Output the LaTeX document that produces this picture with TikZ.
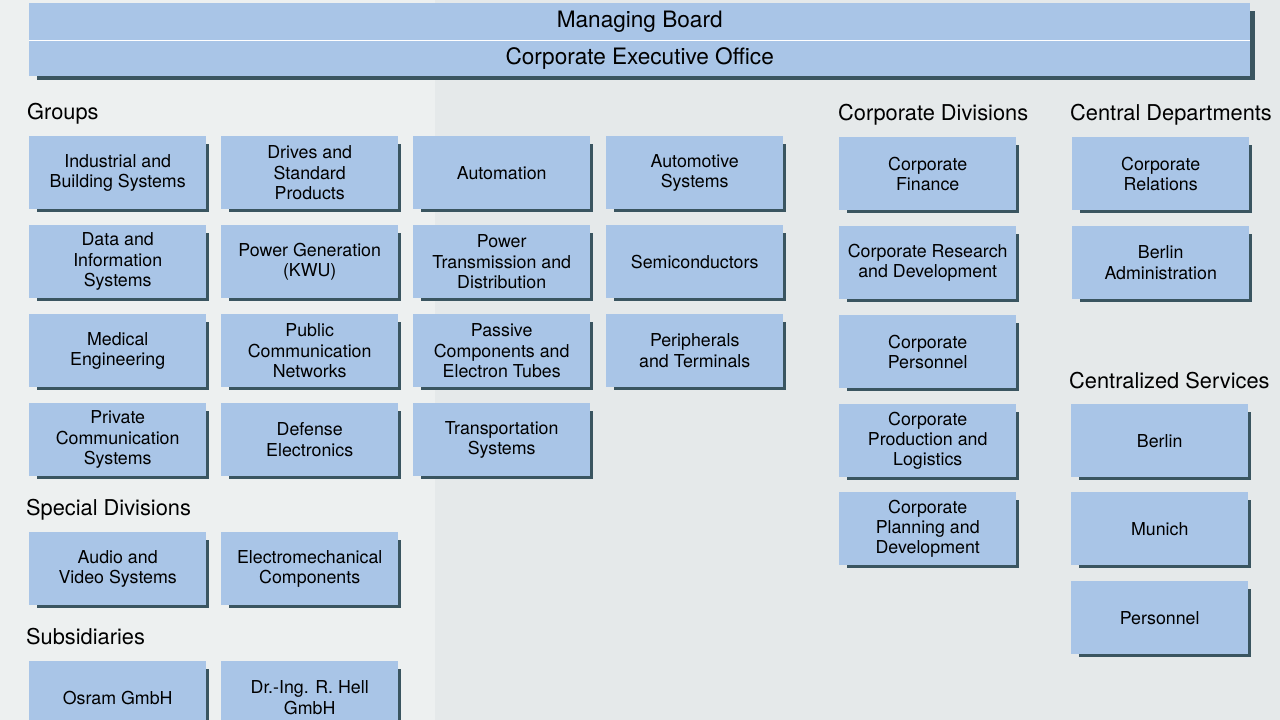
\documentclass[tikz,border=0pt]{standalone}
\usepackage{fontspec}
\setmainfont{TeX Gyre Heros}
\definecolor{bgc}{HTML}{E5E9EA}
\definecolor{bgl}{HTML}{EDF0F0}
\definecolor{boxc}{HTML}{A9C5E7}
\definecolor{shadowc}{HTML}{3A5560}
\tikzset{
  obox/.style={anchor=north west, minimum width=177pt, minimum height=73pt,
    inner sep=0pt, fill=boxc, align=center, text=black,
    font=\fontsize{17.8}{20.3}\selectfont},
  bar/.style={anchor=north west, minimum width=1221pt, inner sep=0pt,
    fill=boxc, text=black, font=\fontsize{22.6}{26}\selectfont},
  sectitle/.style={anchor=base west, inner sep=0pt, text=black,
    font=\fontsize{21.8}{26}\selectfont}
}
\newcommand\orgbox[4]{%
  \fill[shadowc] (#2+8,#3+8) rectangle (#2+180,#3+76);
  \node[obox] (#1) at (#2,#3) {#4};}
\begin{document}
\begin{tikzpicture}[x=1pt,y=-1pt]
\useasboundingbox (0,0) rectangle (1280,720);
\fill[bgc] (0,0) rectangle (1280,720);
\fill[bgl] (0,0) rectangle (435,720);
% top bar
\fill[shadowc] (37,11) rectangle (1255,80);
\node[bar, minimum height=37pt] (mb) at (29,3) {Managing Board};
\node[bar, minimum height=35.5pt] (ceo) at (29,40.5) {Corporate Executive Office};
\draw[white, line width=1.5pt] (mb.south west) -- (mb.south east);
% section titles
\node[sectitle] (tgroups) at (27,119) {Groups};
\node[sectitle] (tspecial) at (26,515) {Special Divisions};
\node[sectitle] (tsubs) at (26,644) {Subsidiaries};
\node[sectitle] (tcorpdiv) at (838,120) {Corporate Divisions};
\node[sectitle] (tcentral) at (1070,120) {Central Departments};
\node[sectitle] (tservices) at (1069,388) {Centralized Services};
% groups
\orgbox{g11}{29}{136}{Industrial and\\Building Systems}
\orgbox{g12}{221}{136}{Drives and\\Standard\\Products}
\orgbox{g13}{413}{136}{Automation}
\orgbox{g14}{606}{136}{Automotive\\Systems}
\orgbox{g21}{29}{225}{Data and\\Information\\Systems}
\orgbox{g22}{221}{225}{Power Generation\\(KWU)}
\orgbox{g23}{413}{225}{Power\\Transmission and\\Distribution}
\orgbox{g24}{606}{225}{Semiconductors}
\orgbox{g31}{29}{314}{Medical\\Engineering}
\orgbox{g32}{221}{314}{Public\\Communication\\Networks}
\orgbox{g33}{413}{314}{Passive\\Components and\\Electron Tubes}
\orgbox{g34}{606}{314}{Peripherals\\and Terminals}
\orgbox{g41}{29}{403}{Private\\Communication\\Systems}
\orgbox{g42}{221}{403}{Defense\\Electronics}
\orgbox{g43}{413}{403}{Transportation\\Systems}
% special divisions
\orgbox{s1}{29}{532}{Audio and\\Video Systems}
\orgbox{s2}{221}{532}{Electromechanical\\Components}
% subsidiaries
\orgbox{u1}{29}{661}{Osram GmbH}
\orgbox{u2}{221}{661}{Dr.-Ing. R. Hell\\GmbH}
% corporate divisions
\orgbox{c1}{839}{137}{Corporate\\Finance}
\orgbox{c2}{839}{226}{Corporate Research\\and Development}
\orgbox{c3}{839}{315}{Corporate\\Personnel}
\orgbox{c4}{839}{404}{Corporate\\Production and\\Logistics}
\orgbox{c5}{839}{492}{Corporate\\Planning and\\Development}
% central departments
\orgbox{d1}{1072}{137}{Corporate\\Relations}
\orgbox{d2}{1072}{226}{Berlin\\Administration}
% centralized services
\orgbox{v1}{1071}{404}{Berlin}
\orgbox{v2}{1071}{492}{Munich}
\orgbox{v3}{1071}{581}{Personnel}
\end{tikzpicture}
\end{document}
